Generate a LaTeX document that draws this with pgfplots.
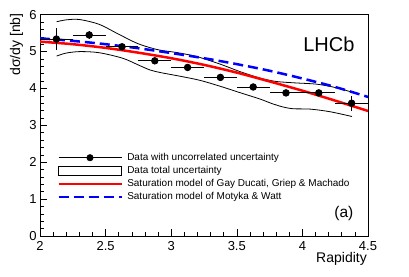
\documentclass[border=0pt]{standalone}
\usepackage{pgfplots}
\pgfplotsset{compat=1.18}
\usepackage{fontspec}
\setmainfont{Liberation Sans}
\definecolor{rootred}{RGB}{255,0,0}
\definecolor{rootblue}{RGB}{0,0,255}
\begin{document}
\begin{tikzpicture}
\begin{axis}[
  scale only axis, width=328bp, height=221.3bp,
  xmin=2, xmax=4.5, ymin=0, ymax=6,
  xtick={2,2.5,3,3.5,4,4.5}, xticklabels={2,2.5,3,3.5,4,4.5},
  ytick={0,1,2,3,4,5,6},
  minor x tick num=4, minor y tick num=4,
  tick pos=left, tick align=inside,
  major tick length=7bp, minor tick length=3.5bp,
  axis line style={line width=0.8bp},
  every tick/.style={black, line width=0.6bp},
  /pgf/number format/assume math mode=true,
  ticklabel style={font=\fontsize{13bp}{15bp}\selectfont},
  xticklabel style={yshift=-2bp},
  xlabel={Rapidity},
  xlabel style={at={(rel axis cs:1,0)}, anchor=north east, inner sep=0pt, yshift=-16bp, xshift=-1bp, font=\fontsize{14bp}{16bp}\selectfont},
  ylabel={dσ/dy [nb]},
  ylabel style={at={(rel axis cs:0,1)}, anchor=south east, inner sep=0pt, xshift=1.5bp, yshift=16.7bp, font=\fontsize{14bp}{16bp}\selectfont},
  legend style={at={(axis cs:2.13,2.25)}, anchor=north west, draw=none, fill=none, inner sep=0pt,
    font=\fontsize{10bp}{12bp}\selectfont, row sep=3.8bp,
    nodes={inner sep=0pt, text height=7bp, text depth=2bp}},
  legend cell align=left,
]
\coordinate (O) at (rel axis cs:0,0);
\addlegendimage{legend image code/.code={\draw[black, line width=0.8bp] (0bp,0bp)--(63bp,0bp); \fill[black] (31.5bp,0bp) circle (3.3bp);}}
\addlegendentry{\hspace{4.5bp}Data with uncorrelated uncertainty}
\addlegendimage{legend image code/.code={\draw[black, line width=0.8bp] (0bp,-4.5bp) rectangle (63bp,4.5bp);}}
\addlegendentry{\hspace{4.5bp}Data total uncertainty}
\addlegendimage{legend image code/.code={\draw[rootred, line width=2.5bp] (0bp,0bp)--(63bp,0bp);}}
\addlegendentry{\hspace{4.5bp}Saturation model of Gay Ducati, Griep \& Machado}
\addlegendimage{legend image code/.code={\draw[rootblue, line width=2.5bp, dash pattern=on 10bp off 5bp] (0bp,0bp)--(63bp,0bp);}}
\addlegendentry{\hspace{4.5bp}Saturation model of Motyka \& Watt}

% total uncertainty band (upper and lower edges)
\addplot[black, line width=0.8bp, smooth, forget plot] coordinates {
(2.127,5.81) (2.2,5.86) (2.3,5.87) (2.45,5.74) (2.6,5.47) (2.75,5.21) (2.9,5.05) (3.05,4.97) (3.2,4.86) (3.373,4.66) (3.53,4.45) (3.68,4.28) (3.8,4.19) (3.95,4.15) (4.1,4.12) (4.22,4.05) (4.3,3.98) (4.378,3.90)};
\addplot[black, line width=0.8bp, smooth, forget plot] coordinates {
(2.127,4.88) (2.2,4.96) (2.305,5.00) (2.45,4.97) (2.63,4.82) (2.76,4.62) (2.84,4.50) (2.92,4.43) (3.07,4.33) (3.22,4.22) (3.373,4.06) (3.53,3.88) (3.68,3.71) (3.76,3.60) (3.85,3.50) (3.93,3.45) (4.06,3.44) (4.21,3.37) (4.378,3.24)};
% models
\addplot[rootred, line width=2.5bp, smooth, forget plot] coordinates {
(2.0,5.27) (2.25,5.20) (2.5,5.10) (2.75,4.97) (3.0,4.82) (3.25,4.64) (3.5,4.43) (3.75,4.19) (4.0,3.94) (4.25,3.67) (4.5,3.39)};
\addplot[rootblue, line width=2.5bp, dash pattern=on 10bp off 5bp, smooth, forget plot] coordinates {
(2.0,5.36) (2.25,5.29) (2.5,5.20) (2.75,5.09) (3.0,4.96) (3.25,4.82) (3.5,4.66) (3.75,4.48) (4.0,4.27) (4.25,4.04) (4.5,3.77)};
% data
\addplot[black, only marks, mark=*, mark size=3.3bp, line width=0.8bp, forget plot,
  error bars/.cd, x dir=both, x explicit, y dir=both, y explicit, error mark=none,
  error bar style={line width=0.8bp}]
  table[x=x, y=y, x error=ex, y error=ey] {
x y ex ey
2.125 5.34 0.125 0.30
2.375 5.45 0.125 0.10
2.625 5.13 0.125 0.06
2.875 4.75 0.125 0.06
3.125 4.57 0.125 0.06
3.375 4.30 0.125 0.05
3.625 4.04 0.125 0.05
3.875 3.88 0.125 0.05
4.125 3.88 0.125 0.08
4.375 3.60 0.125 0.20
};
\node[anchor=base east, inner sep=0pt, font=\fontsize{20bp}{24bp}\selectfont] at (axis cs:4.398,5.0) {LHCb};
\node[anchor=base east, inner sep=0pt, font=\fontsize{15.5bp}{18bp}\selectfont] at (axis cs:4.39,0.49) {(a)};
\end{axis}
\pgfresetboundingbox
\path (O) ++(-40bp,-41bp) rectangle ++(409bp,277bp);
\end{tikzpicture}
\end{document}
